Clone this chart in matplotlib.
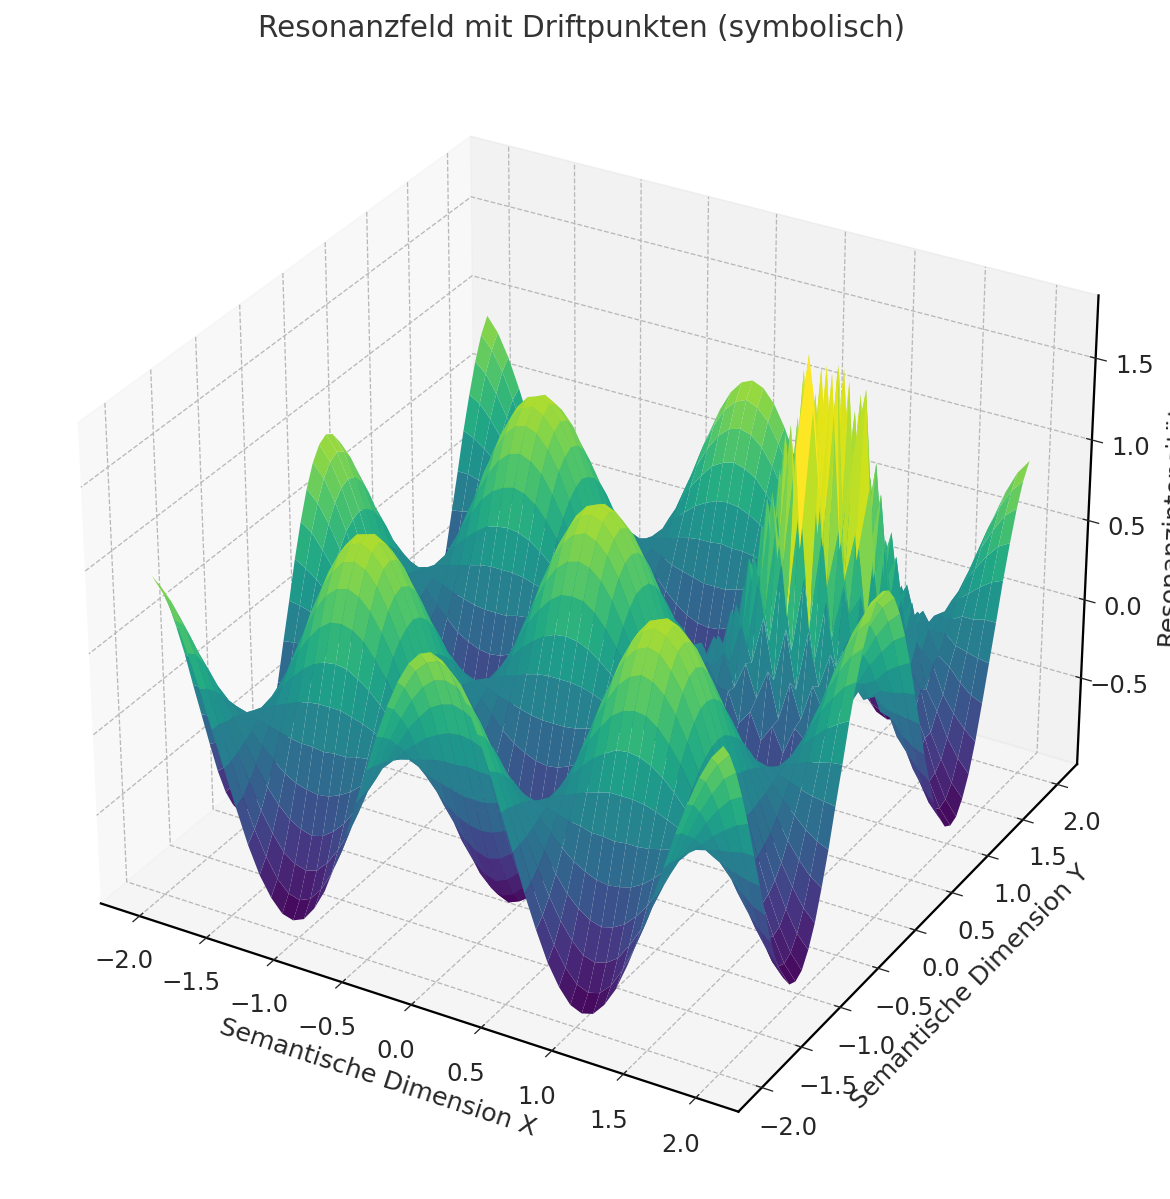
import numpy as np
import matplotlib
matplotlib.use("Agg")
import matplotlib.pyplot as plt

# height of the field, quarter x>=0, y>=0, steps of 0.08
# the four quarters of the field look the same, so rows are mirrored below
quarter = [
    [1.00, .97, .89, .75, .57, .36, .13, -.11, -.34, -.56, -.74, -.88, -.97, -1.00, -.98, -.90, -.77, -.59, -.38, -.15, .09, .32, .54, .72, .87, .96],
    [.97, .94, .86, .73, .56, .35, .13, -.11, -.33, -.54, -.72, -.85, -.94, -.97, -.95, -.87, -.74, -.57, -.37, -.15, .08, .31, .52, .70, .84, .93],
    [.89, .86, .79, .67, .51, .32, .12, -.10, -.30, -.49, -.65, -.78, -.86, -.89, -.87, -.80, -.68, -.52, -.34, -.13, .08, .28, .48, .64, .77, .85],
    [.75, .73, .67, .57, .43, .27, .10, -.08, -.26, -.42, -.55, -.66, -.73, -.75, -.73, -.67, -.58, -.44, -.29, -.11, .07, .24, .40, .54, .65, .72],
    [.57, .56, .51, .43, .33, .21, .07, -.06, -.20, -.32, -.42, -.50, -.55, -.57, -.56, -.51, -.44, -.34, -.22, -.09, .05, .18, .31, .41, .50, .55],
    [.36, .35, .32, .27, .21, .13, .05, -.04, -.12, -.20, -.27, -.32, -.35, -.36, -.35, -.32, -.28, -.21, -.14, -.05, .03, .12, .19, .26, .31, .35],
    [.13, .13, .12, .10, .07, .05, .02, -.01, -.04, -.07, -.10, -.11, -.13, -.13, -.13, -.12, -.10, -.08, -.05, -.02, .01, .04, .07, .09, .11, .12],
    [-.11, -.11, -.10, -.08, -.06, -.04, -.01, .01, .04, .06, .08, .10, .11, .11, .11, .10, .08, .06, .04, .02, -.01, -.03, -.06, -.08, -.09, -.10],
    [-.34, -.33, -.30, -.26, -.20, -.12, -.04, .04, .12, .19, .25, .30, .33, .34, .33, .31, .26, .20, .13, .05, -.03, -.11, -.18, -.25, -.30, -.33],
    [-.56, -.54, -.49, -.42, -.32, -.20, -.07, .06, .19, .31, .41, .49, .54, .56, .54, .50, .43, .33, .21, .08, -.05, -.18, -.30, -.40, -.48, -.53],
    [-.74, -.72, -.65, -.55, -.42, -.27, -.10, .08, .25, .41, .54, .65, .71, .74, .72, .66, .56, .43, .28, .11, -.06, -.24, -.40, -.53, -.64, -.71],
    [-.88, -.85, -.78, -.66, -.50, -.32, -.11, .10, .30, .49, .65, .77, .85, .88, .86, .79, .67, .52, .33, .13, -.08, -.28, -.47, -.63, -.76, -.84],
    [-.97, -.94, -.86, -.73, -.55, -.35, -.13, .11, .33, .54, .71, .85, .93, .97, .94, .87, .74, .57, .37, .15, -.08, -.31, -.52, -.70, -.84, -.93],
    [-1.00, -.97, -.89, -.75, -.57, -.36, -.13, .11, .34, .56, .74, .88, .97, 1.00, .98, .90, .77, .59, .38, .15, -.09, -.32, -.54, -.72, -.87, -.96],
    [-.98, -.95, -.87, -.73, -.56, -.35, -.13, .11, .33, .54, .72, .86, .94, .98, .95, .88, .75, .58, .37, .15, -.08, -.31, -.52, -.70, -.85, -.94],
    [-.90, -.87, -.80, -.67, -.51, -.32, -.12, .10, .31, .50, .66, .79, .87, .90, .88, .80, .69, .53, .34, .14, -.08, -.29, -.48, -.65, -.78, -.86],
    [-.77, -.74, -.68, -.58, -.44, -.28, -.10, .08, .26, .43, .56, .67, .74, .77, .75, .69, .59, .45, .29, .12, -.07, -.25, -.41, -.55, -.66, -.74],
    [-.59, -.57, -.52, -.44, -.34, -.21, -.08, .06, .20, .33, .43, .52, .57, .59, .58, .53, .45, .35, .22, .09, -.05, -.19, -.32, -.43, -.51, -.57],
    [-.38, -.37, -.34, -.29, -.22, -.14, -.05, .04, .13, .21, .28, .33, .37, .38, .37, .34, .29, .22, .14, .06, -.03, -.12, -.20, -.27, -.33, -.36],
    [-.15, -.15, -.13, -.11, -.09, -.05, -.02, .02, .05, .08, .11, .13, .15, .15, .15, .14, .12, .09, .06, .02, -.01, -.05, -.08, -.11, -.13, -.14],
    [.09, .08, .08, .07, .05, .03, .01, -.01, -.03, -.05, -.06, -.08, -.08, -.09, -.08, -.08, -.07, -.05, -.03, -.01, .01, .03, .05, .06, .08, .08],
    [.32, .31, .28, .24, .18, .12, .04, -.03, -.11, -.18, -.24, -.28, -.31, -.32, -.31, -.29, -.25, -.19, -.12, -.05, .03, .10, .17, .23, .28, .31],
    [.54, .52, .48, .40, .31, .19, .07, -.06, -.18, -.30, -.40, -.47, -.52, -.54, -.52, -.48, -.41, -.32, -.20, -.08, .05, .17, .29, .39, .47, .51],
    [.72, .70, .64, .54, .41, .26, .09, -.08, -.25, -.40, -.53, -.63, -.70, -.72, -.70, -.65, -.55, -.43, -.27, -.11, .06, .23, .39, .52, .63, .69],
    [.87, .84, .77, .65, .50, .31, .11, -.09, -.30, -.48, -.64, -.76, -.84, -.87, -.85, -.78, -.66, -.51, -.33, -.13, .08, .28, .47, .63, .75, .83],
    [.96, .93, .85, .72, .55, .35, .12, -.10, -.33, -.53, -.71, -.84, -.93, -.96, -.94, -.86, -.74, -.57, -.36, -.14, .08, .31, .51, .69, .83, .92],
]

# jagged drift bump on top, x and y from 0.40 to 1.76
drift = [
    [.02, -.03, .04, -.02, .05, -.06, .08, -.05, .07, -.09, .06, -.04, .05, -.03, .03, -.02, .02, -.01],
    [-.03, .04, -.06, .07, -.09, .11, -.08, .13, -.15, .10, -.12, .09, -.07, .05, -.04, .03, -.02, .01],
    [.03, -.05, .08, -.11, .14, -.10, .18, -.20, .14, -.22, .17, -.13, .11, -.08, .05, -.04, .02, -.01],
    [-.04, .07, -.06, .15, -.17, .24, -.20, .30, -.26, .22, -.28, .18, -.14, .12, -.06, .05, -.03, .02],
    [.04, -.06, .12, -.14, .26, -.22, .36, -.30, .42, -.34, .30, -.26, .20, -.12, .10, -.05, .03, -.01],
    [-.05, .09, -.12, .24, -.10, .40, -.18, .52, 1.08, .38, -.22, .28, -.12, .17, -.09, .06, -.03, .02],
    [.05, -.08, .16, -.12, .36, -.16, .56, -.26, .64, -.22, .95, -.20, .30, -.10, .14, -.06, .04, -.02],
    [-.06, .10, -.14, .30, -.14, .52, -.24, .70, -.30, .72, -.26, .46, 1.05, .26, -.08, .08, -.04, .02],
    [.06, -.09, .18, -.12, .40, -.20, .72, -.28, .66, -.34, .70, -.24, .40, -.12, .16, -.07, .05, -.02],
    [-.05, .11, -.08, .28, -.18, .54, -.24, .66, -.30, .68, -.28, .62, -.18, .28, -.08, .09, -.04, .02],
    [.05, -.07, .15, -.14, .32, -.18, .60, -.22, .70, -.26, .66, -.20, .36, -.12, .15, -.06, .04, -.02],
    [-.04, .08, -.12, .20, -.14, .40, -.18, .54, -.22, .56, -.20, .44, -.14, .20, -.09, .07, -.03, .01],
    [.03, -.06, .10, -.15, .22, -.14, .36, -.18, .44, -.18, .36, -.15, .24, -.13, .10, -.05, .03, -.01],
    [-.03, .05, -.08, .12, -.14, .22, -.20, .30, -.24, .28, -.22, .20, -.12, .11, -.06, .04, -.02, .01],
    [.02, -.04, .06, -.08, .12, -.12, .18, -.16, .22, -.16, .18, -.12, .10, -.07, .05, -.03, .02, -.01],
    [-.02, .03, -.04, .06, -.07, .09, -.10, .12, -.10, .11, -.09, .07, -.05, .04, -.03, .02, -.01, .01],
    [.01, -.02, .03, -.03, .05, -.05, .06, -.05, .07, -.06, .05, -.04, .03, -.02, .02, -.01, .01, 0],
    [-.01, .01, -.01, .02, -.02, .03, -.03, .03, -.03, .03, -.02, .02, -.01, .01, -.01, 0, 0, 0],
]

x_ticks = [-2.0, -1.5, -1.0, -0.5, 0.0, 0.5, 1.0, 1.5, 2.0]
y_ticks = [-2.0, -1.5, -1.0, -0.5, 0.0, 0.5, 1.0, 1.5, 2.0]
z_ticks = [-0.5, 0.0, 0.5, 1.0, 1.5]

# full grid from the quarter
rows = [r[:0:-1] + r for r in quarter]
Z = np.array(rows[:0:-1] + rows)
Z[30:48, 30:48] += np.array(drift)

x = np.linspace(-2, 2, Z.shape[1])
y = np.linspace(-2, 2, Z.shape[0])
X, Y = np.meshgrid(x, y)

plt.rcParams["text.color"] = ".15"
plt.rcParams["axes.labelcolor"] = ".15"
plt.rcParams["xtick.color"] = ".15"
plt.rcParams["ytick.color"] = ".15"
plt.rcParams["axes.linewidth"] = 1.4
plt.rcParams["grid.color"] = ".72"
plt.rcParams["grid.linestyle"] = "--"
plt.rcParams["grid.linewidth"] = 0.8

fig = plt.figure(figsize=(10, 10.256), dpi=117)
ax = fig.add_axes([0.013, 0.001, 0.97, 0.97], projection="3d")
# colours stop below the spike tops, the peaks stay yellow-green
ax.plot_surface(X, Y, Z, cmap="viridis", vmin=-0.97, vmax=1.25, rstride=1, cstride=1, linewidth=0)

ax.set_xticks(x_ticks)
ax.set_yticks(y_ticks)
ax.set_zticks(z_ticks)
ax.tick_params(labelsize=15, pad=6.5)
ax.set_xlabel("Semantische Dimension X", fontsize=15.6, labelpad=10.5)
ax.set_ylabel("Semantische Dimension Y", fontsize=15.6, labelpad=10)
ax.set_zlabel("Resonanzintensität", fontsize=15.6, labelpad=11)
fig.text(0.497, 0.976, "Resonanzfeld mit Driftpunkten (symbolisch)", fontsize=18.2,
         color=".2", ha="center", va="center")

fig.savefig("out.png")
